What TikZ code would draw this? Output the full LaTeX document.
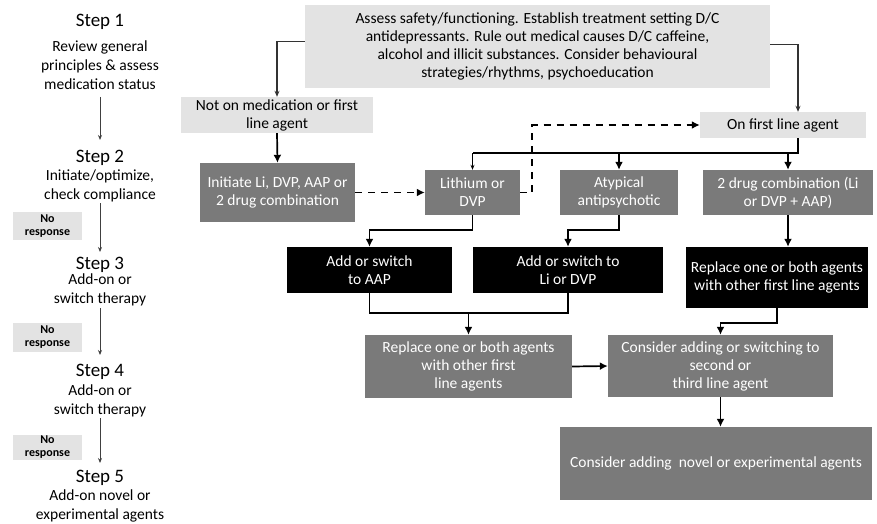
\documentclass[tikz,border=0pt]{standalone}
\usepackage{fontspec}
\setmainfont{Carlito}
\usetikzlibrary{arrows.meta,calc}
\begin{document}
\begin{tikzpicture}[x=1pt,y=-1pt,
  every node/.style={inner sep=0pt,align=center,font=\fontsize{15.5}{18}\selectfont},
  lightbox/.style={fill=black!11},
  graybox/.style={fill=black!52,text=white},
  blackbox/.style={fill=black,text=white},
  nobox/.style={fill=black!11,minimum width=69,font=\bfseries\fontsize{12}{13}\selectfont},
  stephead/.style={font=\fontsize{19}{22}\selectfont},
  stepdesc/.style={font=\fontsize{15.5}{19}\selectfont},
  arr/.style={line width=1.7pt,-{Latex[length=8pt,width=8pt]}},
  ln/.style={line width=1.7pt},
  dasharr/.style={line width=1.7pt,dash pattern=on 7pt off 6pt,-{Latex[length=8pt,width=8pt]}},
  thinarr/.style={line width=0.9pt,draw=black!75,-{Stealth[length=5pt,width=4pt]}},
  toparr/.style={line width=1.1pt,draw=black!80,-{Stealth[length=6pt,width=5pt]}}
]
\useasboundingbox (0,0) rectangle (877,524);

% left column
\node[stephead] (s1) at (100,22) {Step 1};
\node[stepdesc] (d1) at (100,65) {Review general\\principles \& assess\\medication status};
\node[stephead] (s2) at (100,158) {Step 2};
\node[stepdesc] (d2) at (100,186) {Initiate/optimize,\\check compliance};
\node[stephead] (s3) at (100,265) {Step 3};
\node[stepdesc] (d3) at (100,289.5) {Add-on or\\switch therapy};
\node[stephead] (s4) at (100,372) {Step 4};
\node[stepdesc] (d4) at (100,401) {Add-on or\\switch therapy};
\node[stephead] (s5) at (100,478) {Step 5};
\node[stepdesc] (d5) at (100,506) {Add-on novel or\\experimental agents};
\node[nobox,minimum height=28] (n1) at (47.5,226) {No\\response};
\node[nobox,minimum height=29] (n2) at (47.5,337.5) {No\\response};
\node[nobox,minimum height=25] (n3) at (47.5,447.5) {No\\response};
\draw[thinarr] (100,97) -- (100,140);
\draw[thinarr] (100,203) -- (100,252);
\draw[thinarr] (100,308) -- (100,355);
\draw[thinarr] (100,418) -- (100,463);

% flowchart nodes
\node[lightbox,minimum width=465,minimum height=83] (top) at (537.5,46.5)
  {Assess safety/functioning. Establish treatment setting D/C\\antidepressants. Rule out medical causes D/C caffeine,\\alcohol and illicit substances. Consider behavioural\\strategies/rhythms, psychoeducation};
\node[lightbox,minimum width=192,minimum height=36] (notmed) at (277,115) {Not on medication or first\\line agent};
\node[lightbox,minimum width=166,minimum height=26] (first) at (783,125) {On first line agent};
\node[graybox,minimum width=155,minimum height=59] (init) at (277.5,192.5) {Initiate Li, DVP, AAP or\\2 drug combination};
\node[graybox,minimum width=95,minimum height=45] (lith) at (472.5,192.5) {Lithium or\\DVP};
\node[graybox,minimum width=118,minimum height=45] (atyp) at (619,192.5) {Atypical\\antipsychotic};
\node[graybox,minimum width=170,minimum height=45] (two) at (788,192.5) {2 drug combination (Li\\or DVP + AAP)};
\node[blackbox,minimum width=165,minimum height=46] (addaap) at (369.5,270) {Add or switch\\to AAP};
\node[blackbox,minimum width=190,minimum height=46] (addli) at (568,270) {Add or switch to\\Li or DVP};
\node[blackbox,minimum width=182,minimum height=61] (replb) at (777,277.5) {Replace one or both agents\\with other first line agents};
\node[graybox,minimum width=207,minimum height=63] (replg) at (468.5,366.5) {Replace one or both agents\\with other first\\line agents};
\node[graybox,minimum width=225,minimum height=62] (cons) at (720.5,366) {Consider adding or switching to\\second or\\third line agent};
\node[graybox,minimum width=312,minimum height=73] (novel) at (716,463.5) {Consider adding\ \ novel or experimental agents};

% connectors
\draw[toparr] ([yshift=5]top.west) -| (notmed.north);
\draw[toparr] ([yshift=2]top.east) -| ([xshift=15]first.north);
\draw[arr] (notmed.south) -- (init.north);
\draw[dasharr] (init.east) -- (lith.west);
\draw[dasharr] (lith.east) -- ++(12,0) |- (first.west);
\coordinate (bus) at ($(first.south)+(15,15)$);
\draw[ln] ([xshift=15]first.south) -- (bus) -- (bus -| lith.north);
\draw[thinarr,draw=black] (bus -| lith.north) -- (lith.north);
\draw[arr] (bus -| atyp.north) -- (atyp.north);
\draw[arr] (bus -| two.north) -- (two.north);
\draw[arr] (lith.south) -- ++(0,15) -| (addaap.north);
\draw[arr] (atyp.south) -- ++(0,15) -| (addli.north);
\draw[arr] (two.south) -- (two.south |- replb.north);
\coordinate (m2) at (468.5,313);
\draw[ln] (addaap.south) |- (m2);
\draw[ln] (addli.south) |- (m2);
\draw[arr] (m2) -- (replg.north);
\draw[arr] (replb.south) -- ++(0,15) -| (cons.north);
\draw[arr] (replg.east) -- (cons.west);
\draw[arr] (cons.south) -- (cons.south |- novel.north);
\end{tikzpicture}
\end{document}
